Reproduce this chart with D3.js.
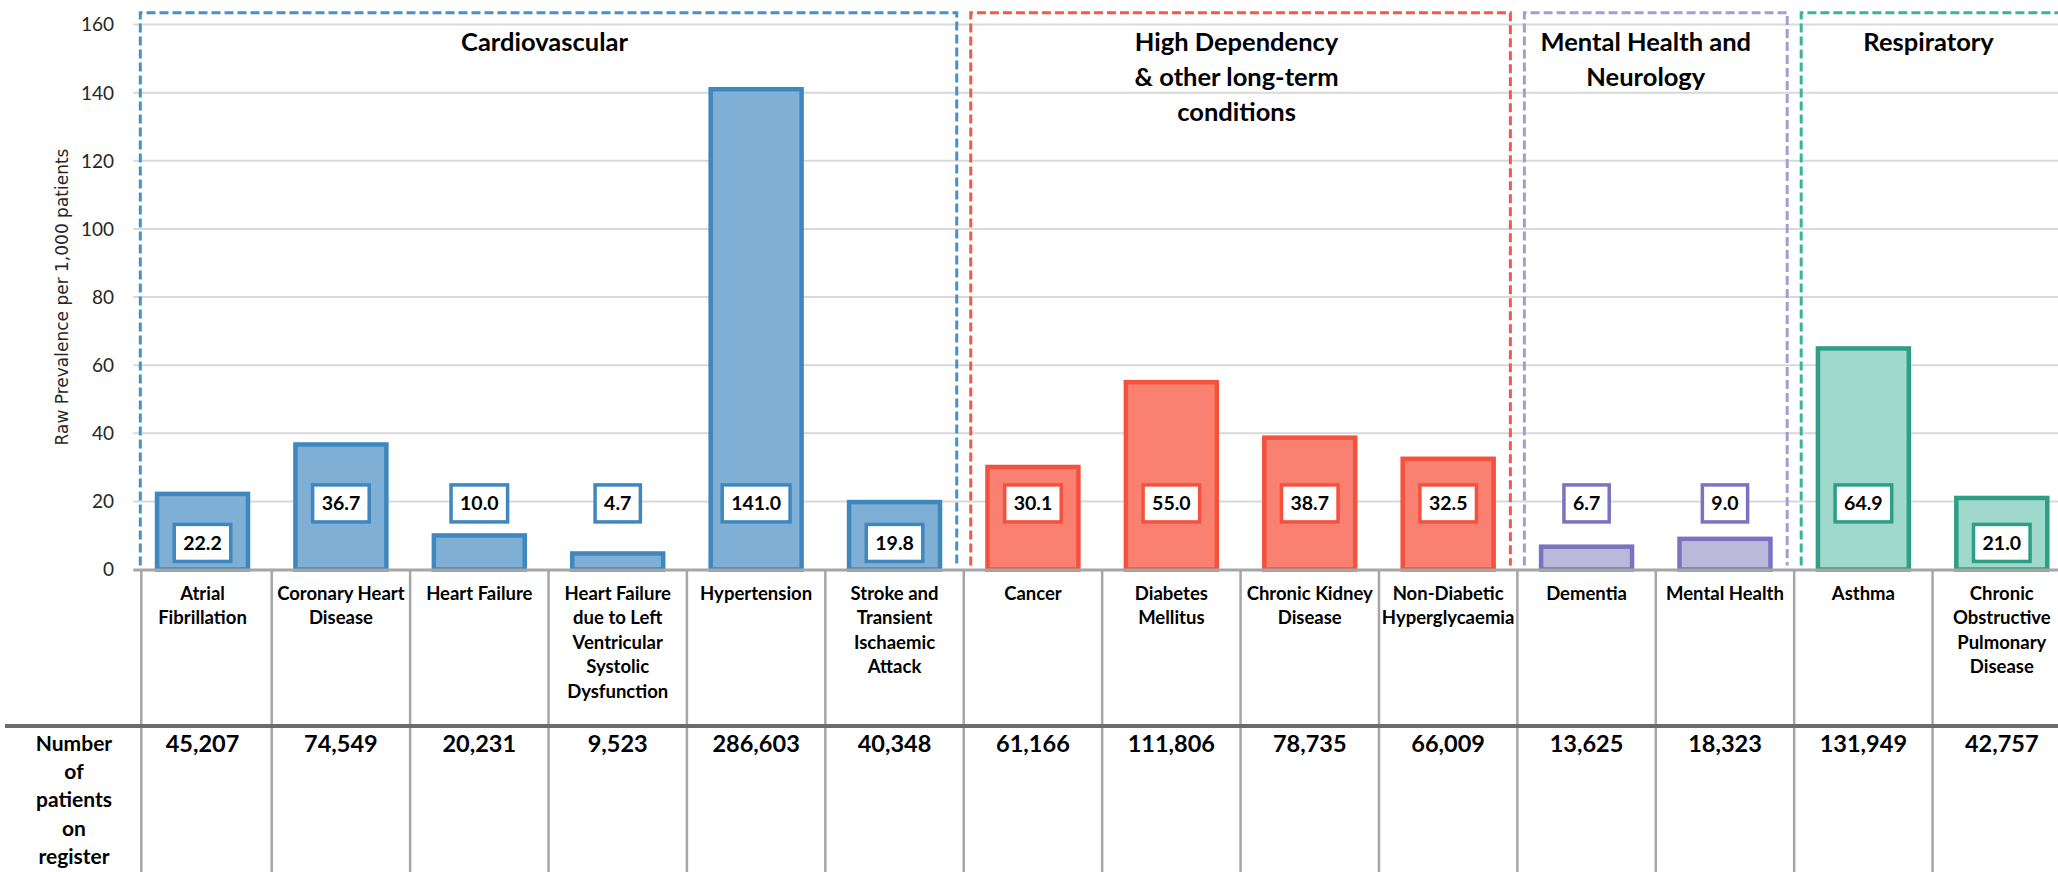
<!DOCTYPE html>
<html>
<head>
<meta charset="utf-8">
<script src="https://cdn.jsdelivr.net/npm/d3@7"></script>
<style>
  html, body { margin: 0; padding: 0; background: #fff; }
  svg { display: block; }
  text { font-family: Lato, "Open Sans", sans-serif; }
</style>
</head>
<body>
<svg id="chart" width="2058" height="872"></svg>
<script>
// ---- data -------------------------------------------------------------
const categories = [
  "Atrial\nFibrillation",
  "Coronary Heart\nDisease",
  "Heart Failure",
  "Heart Failure\ndue to Left\nVentricular\nSystolic\nDysfunction",
  "Hypertension",
  "Stroke and\nTransient\nIschaemic\nAttack",
  "Cancer",
  "Diabetes\nMellitus",
  "Chronic Kidney\nDisease",
  "Non-Diabetic\nHyperglycaemia",
  "Dementia",
  "Mental Health",
  "Asthma",
  "Chronic\nObstructive\nPulmonary\nDisease"
];
const prevalence = [22.2, 36.7, 10.0, 4.7, 141.0, 19.8, 30.1, 55.0, 38.7, 32.5, 6.7, 9.0, 64.9, 21.0];
const patientsOnRegister = [45207, 74549, 20231, 9523, 286603, 40348, 61166, 111806, 78735, 66009, 13625, 18323, 131949, 42757];
const groupOf = ["cv","cv","cv","cv","cv","cv","hd","hd","hd","hd","mh","mh","rs","rs"];
const groups = ["cv", "hd", "mh", "rs"];
const groupTitles = ["Cardiovascular", "High Dependency\n& other long-term\nconditions", "Mental Health and\nNeurology", "Respiratory"];
const yTicks = [0, 20, 40, 60, 80, 100, 120, 140, 160];
const rowHeader = "Number\nof\npatients\non\nregister";
const yAxisTitle = "Raw Prevalence per 1,000 patients";

// ---- styles -----------------------------------------------------------
const palette = {
  cv: { fill: "#7FAFD4", stroke: "#3F87BF", dash: "#4A8FC5" },
  hd: { fill: "#FA8072", stroke: "#F4523F", dash: "#F2584B" },
  mh: { fill: "#BCB8DA", stroke: "#7C72BF", dash: "#A59DD2" },
  rs: { fill: "#9ED9CC", stroke: "#2E9E86", dash: "#3BB39A" }
};

const svg = d3.select("#chart");
const W = 2058, H = 872;

const x = d3.scaleBand()
  .domain(d3.range(categories.length))
  .range([133.3, 2071])
  .paddingInner(0.314)
  .paddingOuter(0.157);

const y = d3.scaleLinear().domain([0, 160]).range([569.5, 24.5]);

const step = x.step();
const gap = step * x.paddingInner();
const colLeft = i => x(i) - gap / 2;
const colCenter = i => x(i) + x.bandwidth() / 2;

// gridlines
svg.append("g")
  .selectAll("line")
  .data(yTicks.filter(t => t > 0))
  .join("line")
  .attr("x1", x.range()[0]).attr("x2", W)
  .attr("y1", d => y(d)).attr("y2", d => y(d))
  .attr("stroke", "#D9D9D9").attr("stroke-width", 2);

// y axis (labels only)
const yAxis = d3.axisLeft(y).tickValues(yTicks).tickSize(0).tickPadding(0);
const gy = svg.append("g").attr("transform", "translate(114,0)").call(yAxis);
gy.select(".domain").remove();
gy.selectAll("text")
  .attr("font-family", "Lato, sans-serif")
  .attr("font-size", 19)
  .attr("fill", "#262626")
  .attr("dy", "0.34em");

// y axis title
svg.append("text")
  .attr("transform", `translate(62,${(y(0) + y(160)) / 2}) rotate(-90)`)
  .attr("text-anchor", "middle")
  .attr("dy", "0.35em")
  .style("font-family", "'DejaVu Sans', Verdana, sans-serif")
  .attr("font-size", 17)
  .attr("fill", "#262626")
  .text(yAxisTitle);

// dashed group frames with their titles
const inset = 7;
groups.forEach((g, gi) => {
  const idx = d3.range(categories.length).filter(i => groupOf[i] === g);
  const left = colLeft(idx[0]) + inset;
  const right = colLeft(idx[idx.length - 1]) + step - inset;
  const top = 12.7, bottom = y(0) - 4;
  svg.append("path")
    .attr("d", `M${left},${bottom}V${top}H${right}V${bottom}`)
    .attr("fill", "none")
    .attr("stroke", palette[g].dash)
    .attr("stroke-width", 3)
    .attr("stroke-dasharray", "9,4");

  const lines = groupTitles[gi].split("\n");
  const t = svg.append("text")
    .attr("text-anchor", "middle")
    .attr("font-weight", 700)
    .attr("font-size", 25.5)
    .attr("fill", "#000");
  lines.forEach((ln, li) => {
    t.append("tspan")
      .attr("x", (left + right) / 2 - (g === "mh" ? 10 : 4))
      .attr("y", 51 + li * 35)
      .text(ln);
  });
});

// bars
svg.append("g")
  .selectAll("rect")
  .data(prevalence)
  .join("rect")
  .attr("x", (d, i) => x(i) + 2)
  .attr("width", x.bandwidth() - 4)
  .attr("y", d => y(d))
  .attr("height", d => y(0) - y(d))
  .attr("fill", (d, i) => palette[groupOf[i]].fill)
  .attr("stroke", (d, i) => palette[groupOf[i]].stroke)
  .attr("stroke-width", 4.5);

// value labels in framed boxes
const labelLevel = v => (v >= 15 && v < 25) ? 7.8 : 19.4;
const lab = svg.append("g")
  .selectAll("g")
  .data(prevalence)
  .join("g")
  .attr("transform", (d, i) => `translate(${colCenter(i)},${y(labelLevel(d))})`);
lab.append("text")
  .attr("text-anchor", "middle")
  .attr("dy", "0.36em")
  .attr("font-weight", 700)
  .attr("font-size", 19.5)
  .attr("fill", "#000")
  .text(d => d3.format(".1f")(d));
lab.each(function(d, i) {
  const g = d3.select(this);
  const tw = g.select("text").node().getComputedTextLength();
  g.insert("rect", "text")
    .attr("x", -(tw + 18) / 2)
    .attr("y", -18.5)
    .attr("width", tw + 18)
    .attr("height", 37)
    .attr("fill", "#fff")
    .attr("stroke", palette[groupOf[i]].stroke)
    .attr("stroke-width", 3.5);
});

// category axis line
svg.append("line")
  .attr("x1", x.range()[0]).attr("x2", W)
  .attr("y1", y(0) + 0.5).attr("y2", y(0) + 0.5)
  .attr("stroke", "#A6A6A6").attr("stroke-width", 3);

// table grid
const tableTop = y(0);
const splitY = 726;
svg.append("g")
  .selectAll("line")
  .data(d3.range(categories.length))
  .join("line")
  .attr("x1", i => colLeft(i) + (i === 0 ? 8 : 0))
  .attr("x2", i => colLeft(i) + (i === 0 ? 8 : 0))
  .attr("y1", tableTop).attr("y2", H)
  .attr("stroke", "#A6A6A6").attr("stroke-width", 2.5);

svg.append("line")
  .attr("x1", 5).attr("x2", W)
  .attr("y1", splitY).attr("y2", splitY)
  .attr("stroke", "#6B6B6B").attr("stroke-width", 4);

// category names
categories.forEach((c, i) => {
  const t = svg.append("text")
    .attr("text-anchor", "middle")
    .attr("font-weight", 700)
    .attr("font-size", 18.5)
    .attr("fill", "#000");
  c.split("\n").forEach((ln, li) => {
    t.append("tspan")
      .attr("x", colCenter(i))
      .attr("y", 593 + li * 24.5)
      .attr("dy", "0.36em")
      .text(ln);
  });
});

// patients on register
svg.append("g")
  .selectAll("text")
  .data(patientsOnRegister)
  .join("text")
  .attr("x", (d, i) => colCenter(i))
  .attr("y", 744)
  .attr("dy", "0.36em")
  .attr("text-anchor", "middle")
  .attr("font-weight", 700)
  .attr("font-size", 23.5)
  .attr("fill", "#000")
  .text(d => d3.format(",")(d));

// row header
const rh = svg.append("text")
  .attr("text-anchor", "middle")
  .attr("font-weight", 700)
  .attr("font-size", 21)
  .attr("fill", "#000");
rowHeader.split("\n").forEach((ln, li) => {
  rh.append("tspan")
    .attr("x", 74)
    .attr("y", 743 + li * 28.4)
    .attr("dy", "0.36em")
    .text(ln);
});
</script>
</body>
</html>
